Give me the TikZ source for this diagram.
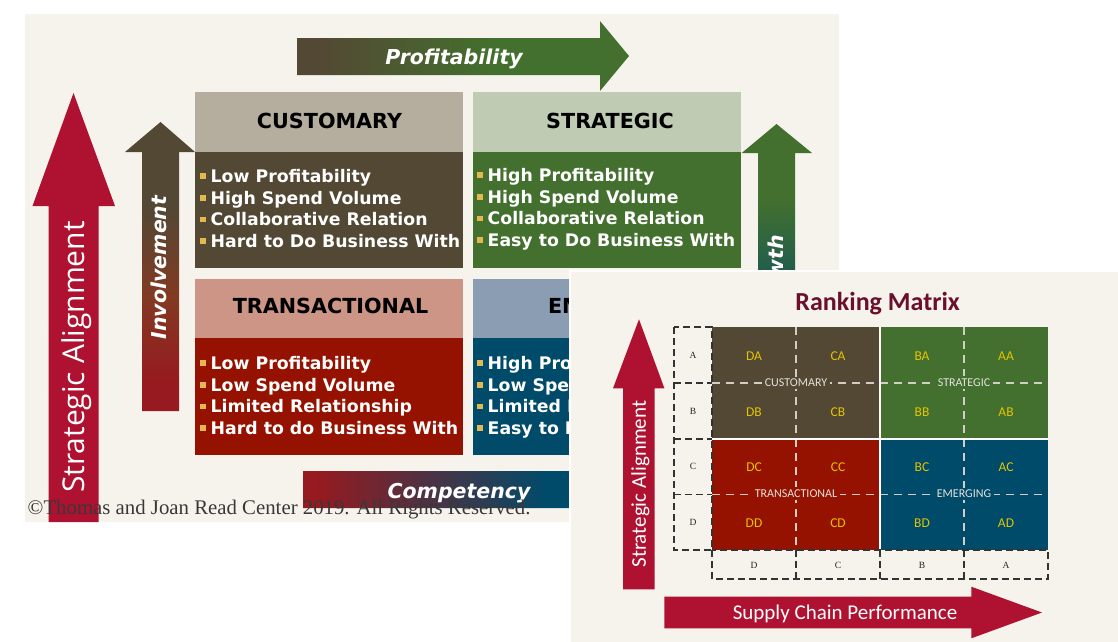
\documentclass[tikz,border=0pt]{standalone}
\usepackage{fontspec}
\setmainfont{Liberation Serif}
\newfontfamily\boxfont{DejaVu Sans}
\newfontfamily\axisfont{Open Sans}
\newfontfamily\rankfont{Carlito}

\definecolor{paper}{HTML}{F6F3EC}
\definecolor{custhead}{HTML}{B5AE9E}
\definecolor{custbody}{HTML}{534834}
\definecolor{strathead}{HTML}{BFCBB2}
\definecolor{stratbody}{HTML}{43702E}
\definecolor{tranhead}{HTML}{CC9585}
\definecolor{tranbody}{HTML}{961200}
\definecolor{emerhead}{HTML}{8A9DB3}
\definecolor{emerbody}{HTML}{004B6A}
\definecolor{alignred}{HTML}{AF1230}
\definecolor{compred}{HTML}{961A1F}
\definecolor{involmid}{HTML}{823A22}
\definecolor{bulletgold}{HTML}{E2B84F}
\definecolor{cellgold}{HTML}{E3C400}
\definecolor{titlemaroon}{HTML}{6B0F2F}
\definecolor{quadgray}{HTML}{D2CEC6}

\pgfdeclarehorizontalshading{profitfade}{100bp}{color(0bp)=(custbody); color(28bp)=(custbody); color(55bp)=(stratbody); color(100bp)=(stratbody)}
\pgfdeclarehorizontalshading{competfade}{100bp}{color(0bp)=(compred); color(27bp)=(compred); color(62bp)=(emerbody); color(100bp)=(emerbody)}
\pgfdeclareverticalshading{involfade}{100bp}{color(0bp)=(compred); color(30bp)=(compred); color(45bp)=(involmid); color(60bp)=(custbody); color(100bp)=(custbody)}
\pgfdeclareverticalshading{growthfade}{100bp}{color(0bp)=(emerbody); color(37bp)=(emerbody); color(62bp)=(stratbody); color(100bp)=(stratbody)}

\newcommand{\bul}{\textcolor{bulletgold}{\rule[3.5pt]{5.5pt}{5.5pt}}\hspace{5pt}}

\begin{document}
\begin{tikzpicture}[x=1pt,y=-1pt,
  head/.style={anchor=base,inner sep=0pt,text=black,font=\boxfont\bfseries\fontsize{20.7}{24}\selectfont},
  point/.style={anchor=base west,inner sep=0pt,text=white,font=\boxfont\bfseries\fontsize{17.3}{20}\selectfont},
  flow/.style={inner sep=0pt,text=white,font=\boxfont\bfseries\itshape\fontsize{20.5}{24}\selectfont},
  cell/.style={text=cellgold,font=\rankfont\fontsize{13.5}{16}\selectfont},
  quad/.style={inner sep=2.5pt,text=quadgray!60!white,font=\rankfont\fontsize{12}{14}\selectfont},
  grade/.style={text=black!85,font=\fontsize{9.5}{11}\selectfont},
  lightdash/.style={draw=quadgray,line width=1.2pt,dash pattern=on 8pt off 6pt},
  darkdash/.style={draw=black!80,line width=1.3pt,dash pattern=on 7pt off 4pt}]
\useasboundingbox (0,0) rectangle (1118,641);
\fill[white] (0,0) rectangle (1118,641);
\fill[paper] (25,14) rectangle (839,522);

% quadrant boxes
\fill[custhead] (195,92) rectangle (463,152);
\fill[custbody] (195,152) rectangle (463,268);
\fill[strathead] (473,92) rectangle (741,152);
\fill[stratbody] (473,152) rectangle (741,268);
\fill[tranhead] (195,279) rectangle (463,338);
\fill[tranbody] (195,338) rectangle (463,455);
\fill[emerhead] (473,279) rectangle (741,338);
\fill[emerbody] (473,338) rectangle (741,455);

\node[head] (custtitle) at (329.5,128.5) {CUSTOMARY};
\node[head] (strattitle) at (610,128.5) {STRATEGIC};
\node[head] (trantitle) at (330.5,313.8) {TRANSACTIONAL};
\node[head] (emertitle) at (610,313.8) {EMERGING};

\foreach \t [count=\i] in {Low Profitability,High Spend Volume,Collaborative Relation,Hard to Do Business With}
  \node[point] (cust-\i) at (200,160.6+21.7*\i) {\bul\t};
\foreach \t [count=\i] in {High Profitability,High Spend Volume,Collaborative Relation,Easy to Do Business With}
  \node[point] (strat-\i) at (477,159.6+21.7*\i) {\bul\t};
\foreach \t [count=\i] in {Low Profitability,Low Spend Volume,Limited Relationship,Hard to do Business With}
  \node[point] (tran-\i) at (200,347.6+21.7*\i) {\bul\t};
\foreach \t [count=\i] in {High Profitability,Low Spend Volume,Limited Relationship,Easy to Do Business With}
  \node[point] (emer-\i) at (477,347.6+21.7*\i) {\bul\t};

% axis arrows
\shade[shading=profitfade] (297,38) -- (600,38) -- (600,21) -- (629,56) -- (600,91) -- (600,75) -- (297,75) -- cycle;
\node[flow,anchor=base] (profit) at (454,64) {Profitability};
\shade[shading=competfade] (303,471) -- (600,471) -- (600,454) -- (632,489.5) -- (600,525) -- (600,508) -- (303,508) -- cycle;
\node[flow,anchor=base] (compet) at (459,498.3) {Competency};
\shade[shading=involfade] (142,411) -- (142,152) -- (125,152) -- (160.5,122) -- (195,152) -- (179,152) -- (179,411) -- cycle;
\node[flow,rotate=90,anchor=base] (invol) at (166.5,267.5) {Involvement};
\shade[shading=growthfade] (758,411) -- (758,153) -- (741.7,153) -- (776.5,124) -- (812,153) -- (795,153) -- (795,411) -- cycle;
\node[flow,rotate=90,anchor=base east] (growth) at (783.5,235) {Growth};
\fill[alignred] (48.5,522) -- (48.5,206) -- (32.5,206) -- (73.5,93) -- (115,206) -- (98.5,206) -- (98.5,522) -- cycle;
\node[rotate=90,anchor=base,inner sep=0pt,text=white,font=\axisfont\fontsize{30}{36}\selectfont] (bigalign) at (84.2,357) {Strategic Alignment};

\node[anchor=base west,inner sep=0pt,text=black!78,font=\fontsize{20.8}{24}\selectfont] (note) at (27.5,514) {\textcopyright Thomas and Joan Read Center 2019. All Rights Reserved.};

% ranking matrix
\draw[fill=paper,draw=white,line width=1.5pt] (570,271) rectangle (1120,643);
\node[anchor=base,inner sep=0pt,text=titlemaroon,font=\rankfont\bfseries\fontsize{26}{30}\selectfont] (ranktitle) at (877.6,310.7) {Ranking Matrix};

\fill[custbody] (712,327) rectangle (880,439);
\fill[stratbody] (880,327) rectangle (1048,439);
\fill[tranbody] (712,439) rectangle (880,550);
\fill[emerbody] (880,439) rectangle (1048,550);
\draw[lightdash] (712,383) -- (1048,383) (712,494.5) -- (1048,494.5) (796,327) -- (796,550) (964,327) -- (964,550);
\draw[white,line width=1.2pt] (880,327) -- (880,550) (712,439) -- (1048,439);

\draw[darkdash] (674,327) rectangle (712,550) (674,383) -- (712,383) (674,439) -- (712,439) (674,494.5) -- (712,494.5);
\draw[darkdash] (712,550) rectangle (1048,579) (796,550) -- (796,579) (880,550) -- (880,579) (964,550) -- (964,579);

\node[quad,fill=custbody] (qcust) at (796,383) {CUSTOMARY};
\node[quad,fill=stratbody] (qstrat) at (964,382.5) {STRATEGIC};
\node[quad,fill=tranbody] (qtran) at (796,493.5) {TRANSACTIONAL};
\node[quad,fill=emerbody] (qemer) at (964,494) {EMERGING};

\foreach \c/\cx in {D/754,C/838,B/922,A/1006}{
  \foreach \r/\ry in {A/355.7,B/411.7,C/466.7,D/522.7}
    \node[cell] (cell\c\r) at (\cx,\ry) {\c\r};
  \node[grade] (col\c) at (\cx,565) {\c};
}
\foreach \r/\ry in {A/355.7,B/411.7,C/466.7,D/522.7}
  \node[grade] (row\r) at (693,\ry) {\r};

\fill[alignred] (623,589.3) -- (623,388.3) -- (613,388.3) -- (639,319.3) -- (664.4,388.3) -- (654.6,388.3) -- (654.6,589.3) -- cycle;
\node[rotate=90,anchor=base,inner sep=0pt,text=white,font=\rankfont\fontsize{21}{25}\selectfont] (rankalign) at (645.8,484.2) {Strategic Alignment};
\fill[alignred] (664.4,596.7) -- (971.3,596.7) -- (971.3,586.7) -- (1042,612.5) -- (971.3,638.3) -- (971.3,628.3) -- (664.4,628.3) -- cycle;
\node[anchor=base,inner sep=0pt,text=white,font=\rankfont\fontsize{21}{25}\selectfont] (supply) at (845,619.5) {Supply Chain Performance};
\end{tikzpicture}
\end{document}
